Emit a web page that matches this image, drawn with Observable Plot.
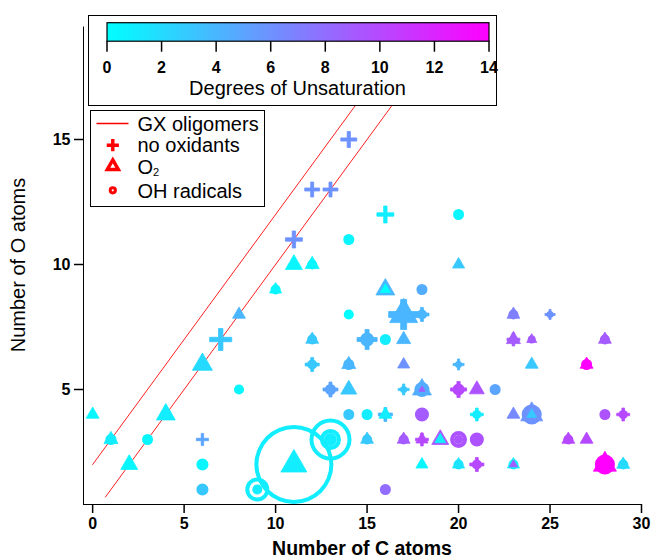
<!DOCTYPE html>
<html><head><meta charset="utf-8">
<script src="https://cdn.jsdelivr.net/npm/d3@7"></script>
<script src="https://cdn.jsdelivr.net/npm/@observablehq/plot@0.6"></script>
<style>
body{margin:0;background:#fff;font-family:"Liberation Sans",Arial,Helvetica,sans-serif;}
#wrap{position:relative;width:651px;height:559px;overflow:hidden;}
#chart svg text{font-weight:bold;}
#chart svg g[aria-label*="axis"] *{stroke-width:1.5px;}
.box{position:absolute;background:#fff;border:1.5px solid #000;box-sizing:border-box;}
#cbBox svg text{font-weight:bold;}
#cbBox svg g[aria-label*="axis"] *{stroke-width:1.5px;}
.title{position:absolute;text-align:center;font-size:20px;line-height:24px;color:#000;white-space:nowrap;}
</style></head>
<body><div id="wrap">
<div id="chart"></div>
<div id="cbBox" class="box" style="left:88px;top:15px;width:409px;height:91px;">
  <div id="cbPlot" style="position:absolute;left:0;top:0;"></div>
  <div class="title" style="left:5.5px;top:59.8px;width:406px;">Degrees of Unsaturation</div>
</div>
<div id="legBox" class="box" style="left:90px;top:110px;width:175px;height:97px;"></div>
<div class="title" style="left:212px;top:536px;width:300px;font-weight:bold;font-size:19.5px;">Number of C atoms</div>
<div class="title" style="left:-132px;top:253px;width:300px;transform:rotate(-90deg);">Number of O atoms</div>
</div>
<script>
// ---- data ----
const xTicks = [0, 5, 10, 15, 20, 25, 30];
const yTicks = [5, 10, 15];
const colorTicks = [0, 2, 4, 6, 8, 10, 12, 14];
const legendLabels = ["GX oligomers", "no oxidants", "O", "OH radicals"];

// [C atoms, O atoms, degrees of unsaturation, relative signal]
const noOxidants = [
 [14,15,6,4.0],[12,13,6,3.5],[13,13,6,3.5],[16,12,1,4.5],[11,11,6,4.5],
 [7,7,3,7.6],[17,8,4,14.1],[18,8,4,3.1],[25,8,6,1.6],[15,7,4,6.3],
 [23,7,9,2.6],[12,6,3,3.1],[20,6,4,1.9],[13,5,5,3.5],[17,5,3,1.9],
 [20,5,10,4.0],[16,4,4,3.1],[21,4,1,2.6],[29,4,10,2.6],[6,3,5,2.3],
 [18,3,10,2.6],[21,2,10,3.1]
];
const ohRadicals = [
 [20,12,0.5,1.9],[14,11,0.5,1.9],[12,10,0.5,1.6],[10,9,0.5,1.6],[18,9,4.5,1.9],
 [14,8,0,1.6],[18,8,4,1.6],[23,8,7,1.6],[25,8,6,0.8],[12,7,3,1.6],
 [15,7,4,3.1],[16,7,1,1.9],[24,7,9,1.0],[28,7,9,1.6],[12,6,3,1.6],
 [14,6,4,1.9],[20,6,4,0.8],[27,6,14,1.9],[8,5,0.5,1.6],[13,5,5,1.9],
 [17,5,3,0.8],[18,5,4.5,3.5],[20,5,10,2.3],[22,5,5,1.9],[14,4,3,1.9],
 [15,4,1,1.9],[18,4,9,3.1],[18,4,9,0.8],[21,4,1,1.3],[24,4,6,6.3],
 [28,4,9.5,1.9],[29,4,10,1.3],[1,3,1,1.9],[3,3,0.5,1.9],[13,3,1,27.6],
 [13,3,1,6.9],[13,3,1,2.6],[15,3,3,1.6],[17,3,9,1.6],[20,3,9.5,4.5],
 [20,3,9.5,1.3],[21,3,9.5,3.1],[21,3,9.5,0.8],[26,3,10,1.6],[6,2,0.5,2.3],
 [11,2,1,97.5],[20,2,1.5,1.6],[21,2,10,1.6],[23,2,1,1.6],[28,2,14,6.3],
 [29,2,2,1.6],[6,1,3,2.3],[9,1,1,9.0],[9,1,1,1.6],[16,1,8,1.9]
];
const o2 = [
 [11,10,0.5,4.5],[12,10,0.5,3.1],[20,10,3,2.3],[10,9,0.5,2.3],[16,9,4,5.6],
 [16,9,0,1.6],[8,8,4,2.6],[17,8,4,12.3],[23,8,7,2.6],[12,7,3,2.6],
 [17,7,4,3.1],[23,7,9,3.1],[24,7,9,1.6],[28,7,9,2.6],[6,6,2,6.3],
 [14,6,4,3.1],[17,6,6,2.3],[24,6,3,2.6],[27,6,14,2.6],[14,5,3,4.0],
 [18,5,4.5,5.6],[18,5,9,0.6],[21,5,9.5,3.5],[0,4,0.5,2.6],[4,4,1,5.6],
 [16,4,1,2.6],[23,4,6.5,2.6],[24,4,6,7.6],[24,4,3,1.6],[1,3,1,3.1],
 [15,3,3,2.6],[17,3,9,2.6],[18,3,10,2.3],[19,3,9.5,4.5],[19,3,1,1.9],
 [26,3,10,2.6],[27,3,10,2.6],[2,2,0.5,4.5],[11,2,1,10.6],[18,2,0.5,2.3],
 [20,2,1.5,2.3],[23,2,1,2.3],[23,2,9,1.0],[28,2,14,8.3],[29,2,2,2.6]
];
// GX oligomer lines [C, O]
const gxUpper = [[0,2],[18,20]];
const gxLower = [[0.7,0.7],[20,20]];

// ---- symbols ----
const triSym = {draw(ctx, size){const r=Math.sqrt(size/Math.PI);
  ctx.moveTo(0,-1.1547*r); ctx.lineTo(r,0.5774*r); ctx.lineTo(-r,0.5774*r); ctx.closePath();}};
const crossSym = {draw(ctx, size){const r=Math.sqrt(size/Math.PI), w=0.2*r;
  ctx.moveTo(-r,-w); ctx.lineTo(-w,-w); ctx.lineTo(-w,-r); ctx.lineTo(w,-r); ctx.lineTo(w,-w);
  ctx.lineTo(r,-w); ctx.lineTo(r,w); ctx.lineTo(w,w); ctx.lineTo(w,r); ctx.lineTo(-w,r);
  ctx.lineTo(-w,w); ctx.lineTo(-r,w); ctx.closePath();}};
// open circle marker with a thick rim (small ones look solid)
const ringSym = {draw(ctx, size){const R=Math.sqrt(size/Math.PI);
  const inner = R >= 7.5 ? R - 4 : 0;
  ctx.moveTo(R,0); ctx.arc(0,0,R,0,2*Math.PI); ctx.closePath();
  if (inner > 0) { ctx.moveTo(inner,0); ctx.arc(0,0,inner,0,2*Math.PI,true); ctx.closePath(); }}};

const cmin = "#00ffff", cmax = "#ff00ff";
const colorScale = {type:"linear", domain:[0,14], range:[cmin,cmax], interpolate:"rgb"};

const chart = Plot.plot({
  width:651, height:559,
  marginLeft:83, marginRight:10, marginTop:26.5, marginBottom:55,
  style:{fontFamily:"'Liberation Sans', Arial, sans-serif", fontSize:"16px", background:"white", color:"black", overflow:"visible"},
  x:{domain:[-0.5,30], ticks:xTicks, tickSize:9, tickPadding:4, line:true, label:null},
  y:{domain:[0.4,19.5], ticks:yTicks, tickSize:9, tickPadding:4, line:true, label:null},
  color:colorScale,
  r:{type:"sqrt", domain:[0,100], range:[0,40]},
  marks:[
    Plot.line(gxUpper, {x:d=>d[0], y:d=>d[1], stroke:"#ff2020", strokeWidth:1, clip:true}),
    Plot.line(gxLower, {x:d=>d[0], y:d=>d[1], stroke:"#ff2020", strokeWidth:1, clip:true}),
    Plot.dot(noOxidants, {x:d=>d[0], y:d=>d[1], r:d=>d[3], fill:d=>d[2], stroke:d=>d[2], strokeWidth:0.8, symbol:crossSym}),
    Plot.dot(ohRadicals, {x:d=>d[0], y:d=>d[1], r:d=>d[3], fill:d=>d[2], stroke:"none", symbol:ringSym}),
    Plot.dot(o2, {x:d=>d[0], y:d=>d[1], r:d=>d[3], fill:d=>d[2], stroke:d=>d[2], strokeWidth:0.8, symbol:triSym})
  ]
});
document.getElementById("chart").appendChild(chart);

// ---- colorbar ----
const cb = Plot.plot({
  width:406, height:88, marginLeft:17.5, marginRight:6.5, marginTop:6.2, marginBottom:63.3,
  style:{fontFamily:"'Liberation Sans', Arial, sans-serif", fontSize:"16px", background:"white", color:"black", overflow:"visible"},
  x:{domain:[0,14], ticks:colorTicks, tickSize:11, tickPadding:9, label:null},
  y:{axis:null, domain:[0,1]},
  marks:[Plot.frame({fill:"white", stroke:"black", strokeWidth:1.2})]
});
const defs = d3.select(cb).insert("defs", ":first-child");
const grad = defs.append("linearGradient").attr("id","cbGrad").attr("x1","0%").attr("x2","100%").attr("y1","0%").attr("y2","0%");
grad.append("stop").attr("offset","0%").attr("stop-color",cmin);
grad.append("stop").attr("offset","100%").attr("stop-color",cmax);
d3.select(cb).selectAll('[aria-label="frame"], [aria-label="frame"] rect').attr("fill","url(#cbGrad)");
document.getElementById("cbPlot").appendChild(cb);

// ---- legend ----
const leg = d3.select("#legBox").append("svg").attr("width",172).attr("height",94)
  .style("position","absolute").style("left","0").style("top","0");
const red = "#ff0000";
const rows = [12.5, 34.2, 55.3, 79.3];
leg.append("line").attr("x1",5.5).attr("x2",37.5).attr("y1",rows[0]).attr("y2",rows[0]).attr("stroke",red).attr("stroke-width",1.5);
{ const p = d3.path(); crossSym.draw(p, Math.PI*5.5*5.5);
  leg.append("path").attr("d", p.toString()).attr("transform",`translate(21.8,${rows[1]})`).attr("fill",red).attr("stroke",red).attr("stroke-width",1.2); }
{ const p = d3.path(); triSym.draw(p, Math.PI*5.5*5.5);
  leg.append("path").attr("d", p.toString()).attr("transform",`translate(21.8,${rows[2]})`).attr("fill","white").attr("stroke",red).attr("stroke-width",3.5).attr("stroke-linejoin","miter"); }
leg.append("circle").attr("cx",21.8).attr("cy",rows[3]).attr("r",2.6).attr("fill","white").attr("stroke",red).attr("stroke-width",3);
legendLabels.forEach((t,i)=>{
  const tx = leg.append("text").attr("x",46.5).attr("y",rows[i]+7.2).attr("font-size",20)
    .attr("font-family","'Liberation Sans', Arial, sans-serif").attr("fill","#000").text(t);
  if (i===2) tx.append("tspan").attr("font-size",11).attr("dy",2.5).text("2");
});
</script>
</body></html>
